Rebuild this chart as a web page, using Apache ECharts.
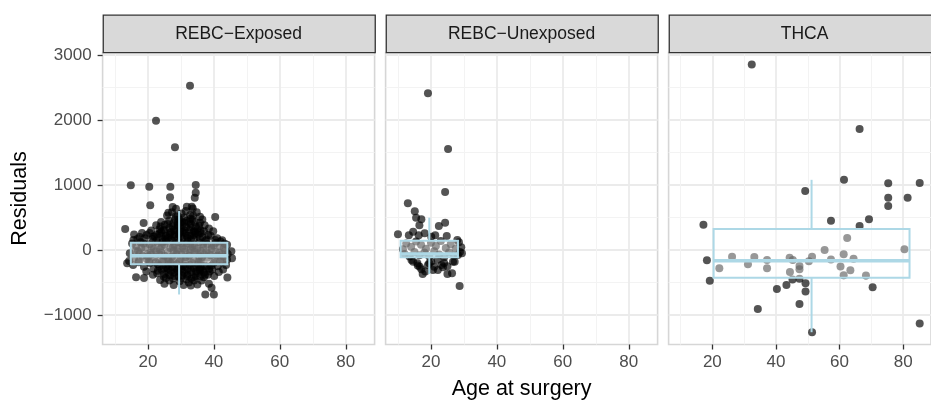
<!DOCTYPE html>
<html><head><meta charset="utf-8">
<script src="https://cdn.jsdelivr.net/npm/echarts@6/dist/echarts.min.js"></script>
<style>html,body{margin:0;padding:0;background:#fff}#chart{width:931px;height:401px}</style>
</head><body><div id="chart"></div>
<script>
// Facet titles, axis titles and tick values
const panelNames = ['REBC\u2212Exposed', 'REBC\u2212Unexposed', 'THCA'];
const xTitle = 'Age at surgery';
const yTitle = 'Residuals';
const xTicks = [20, 40, 60, 80];
const xMinor = [10, 30, 50, 70];
const yTicks = [-1000, 0, 1000, 2000, 3000];
const yMinor = [-500, 500, 1500, 2500];

// [age at surgery, residual]
const exposedPoints = [
  [32.76,2528],[22.45,1990],[28.2,1580],
  [14.8,995],[20.4,975],[26.8,975],[34.5,1000],[34.5,880],[26.7,810],[34.2,805],[20.7,687],[33.3,667],[31.8,667],
  [28.5,636],[33.6,640],[27.5,660],[26.2,574],[30.2,560],[31.5,600],[32.8,540],[29.0,520],[34.8,580],[35.8,513],[40.4,507],
  [36.5,470],[33.5,470],[28.2,470],[25.8,530],[29.5,470],[31,420],[32.5,430],
  [13.1,323],[18.7,415],[39.8,288],[40.4,154],[29.7,410],[24.7,308],[21.6,205],[19.6,231],[15.6,154],
  [22.5,380],[24.0,430],[26.0,400],[27.5,360],[29.0,420],[30.5,380],[31.8,450],[33.0,400],[34.5,360],[35.8,420],[37.2,380],[38.5,330],
  [36.0,300],[30.0,330],[28.5,300],[26.5,340],[23.5,320],[21.0,300],[32.5,310],[34.0,290],
  [25,300],[27,280],[29,350],[31,300],[33,350],[35,320],[24,220],[26,190],[28,240],[30,210],[32,190],[34,230],[36,260],
  [15.8,240],[17.5,200],[19.0,180],[20.5,260],[22.0,210],[23.5,250],[24.5,170],[25.5,220],[26.8,260],[28.0,200],[29.2,240],[30.5,180],
  [31.5,260],[32.8,220],[34.0,170],[35.2,240],[36.5,200],[37.8,160],[39.0,220],[41.0,180],[42.5,150],[27.0,160],[29.8,290],[33.8,280],[18.2,260],[16.8,170],
  [21.4,170],[22.7,240],[24.0,280],[25.3,180],[26.6,230],[27.9,310],[29.2,190],[30.5,270],[31.8,220],[33.1,170],[34.4,260],[35.7,190],[37.0,290],[38.3,230],
  [23.8,360],[25.1,390],[26.4,450],[27.7,410],[29.0,380],[30.3,440],[31.6,350],[32.9,480],[34.2,430],[35.5,370],[28.4,520],[30.9,500],[33.7,530],[27.3,580],
  [15.2,100],[16.5,60],[17.8,120],[19.2,40],[20.5,90],[21.8,20],[23.0,110],[24.2,60],[25.5,130],[26.8,30],[28.0,80],[29.3,120],[30.5,50],[31.8,100],
  [33.0,10],[34.2,70],[35.5,120],[36.8,40],[38.0,90],[39.3,20],[40.5,110],[41.8,60],[43.0,30],[44.0,80],[22.5,140],[27.5,140],[32.0,140],[37.5,140],[42.0,130],
  [18.0,30],[29.0,20],[33.5,50],[40.0,70],
  [16.0,-10],[17.3,-160],[18.7,100],[19.9,-60],[21.2,50],[22.4,-190],[23.7,10],[25.0,80],[26.3,-170],[27.6,50],[28.9,-20],[30.2,100],
  [31.5,-110],[32.8,80],[34.1,-30],[35.4,-180],[36.7,90],[38.0,-120],[39.3,60],[40.6,-30],[41.9,-170],[43.2,100],[44.0,-150],
  [20.6,-200],[26.0,-120],[31.0,20],[37.0,-70],[42.5,-60],[24.4,120],[34.9,20],
  [14.5,-50],[15.8,-120],[17.0,-20],[18.3,-90],[19.6,-140],[20.8,-40],[22.1,-110],[23.4,-60],[24.7,-150],[26.0,-30],[27.3,-100],[28.6,-60],[29.9,-130],
  [31.2,-20],[32.5,-90],[33.8,-140],[35.1,-50],[36.4,-110],[37.7,-30],[39.0,-80],[40.3,-140],[41.6,-40],[42.9,-100],[44.2,-60],[45.3,-20],[45.5,-128],
  [20.0,-100],[22.5,-20],[25.0,-90],[27.8,-10],[30.2,-70],[32.8,-40],[35.5,-100],[38.4,-50],[41.0,-90],[43.5,-10],[21.0,-70],[24.0,-40],[36.0,-10],[17.5,-50],
  [13.7,-205],[14.3,-170],[15.5,-230],[17.2,-190],[18.8,-260],[20.3,-180],[21.7,-290],[23.0,-220],[24.3,-170],[25.6,-260],[26.9,-200],[28.2,-280],[29.5,-180],
  [30.8,-240],[32.1,-290],[33.4,-200],[34.7,-260],[36.0,-180],[37.3,-240],[38.6,-290],[39.9,-200],[41.2,-250],[42.5,-180],[43.7,-230],[27.6,-160],[31.4,-160],[35.6,-300],
  [23.5,-250],[24.8,-290],[26.1,-230],[27.4,-270],[28.7,-220],[30.0,-300],[31.3,-260],[32.6,-230],[33.9,-280],[35.2,-220],[36.5,-310],[37.8,-260],[39.2,-240],
  [27,-320],[29,-300],[31,-350],[33,-310],[35,-360],[28,-400],[30,-430],[32,-380],[34,-420],[26,-290],[36,-270],[30,-250],[25,-370],[37,-420],
  [22.8,-360],[24.1,-300],[25.4,-430],[26.7,-390],[28.0,-350],[29.3,-410],[30.6,-320],[31.9,-400],[33.2,-440],[34.6,-330],[35.9,-410],[37.0,-350],[38.2,-380],[39.5,-300],
  [19.5,-330],[21.5,-380],[23.0,-320],[24.8,-410],[26.2,-350],[27.6,-440],[28.9,-330],[30.3,-390],[31.7,-450],[33.1,-340],[34.5,-400],[35.9,-320],
  [37.3,-380],[38.7,-330],[40.1,-400],[41.5,-340],[42.8,-300],[29.6,-480],[32.4,-500],[26.5,-470],[36.3,-470],[34.0,-470],
  [16.4,-420],[18.8,-430],[44.1,-425],[23.7,-461],[27.8,-538],[33,-548],[25.0,-520],[30.8,-540],[35.0,-530],[38.5,-520],[39.3,-580],
  [37.4,-687],[40.0,-685]
];
const unexposedPoints = [
  [19.1,2411],[25.2,1554],[24.3,892],[13.0,718],[15.1,595],[15.5,495],[17.1,472],[16.5,380],[24.3,420],[22.4,369],
  [10.0,241],[13.3,226],[16.3,226],[21.3,226],[24.8,215],[28.0,154],[29.2,41],[29.4,-51],[14.6,282],[18.1,256],[20.1,205],[11.5,11],
  [12.5,100],[14.0,50],[15.5,130],[17.0,80],[18.5,20],[20.0,110],[21.5,60],[23.0,140],[24.5,30],[26.0,90],[27.5,20],[28.5,120],
  [12.0,-60],[13.5,-100],[15.0,-30],[16.5,-80],[18.0,-40],[19.5,-100],[21.0,-20],[22.5,-70],[24.0,-110],[25.5,-40],[27.0,-90],[28.8,-30],
  [14.1,-154],[16.6,-257],[19.1,-231],[20.1,-180],[23.2,-231],[27.2,-180],[28.2,-77],[20.6,-308],[18.3,-330],[16.0,-240],[22.0,-150],
  [25.0,-250],[21.0,-260],[24.0,-200],[26.7,-180],[14.6,-180],[15.9,-205],[19.5,-205],[23.65,-266],
  [17.5,-369],[17.1,-297],[22.1,-308],[25.0,-369],[26.4,-359],[28.7,-554]
];
const thcaPoints = [
  [32.4,2857],[17.2,389],[18.3,-159],[19.2,-472],[22.2,-282],[26.2,-103],[31.2,-221],[33.2,-108],[37.2,-154],[37.2,-282],
  [34.3,-908],[40.3,-600],[43.3,-540],[44.3,-118],[45.3,-154],[47.4,-246],[47.4,-297],[44.4,-338],[45.2,-455],[47.4,-441],
  [49.3,-512],[49.3,-641],[47.4,-831],[49.2,908],[50.35,-174],[51.35,-103],[51.35,-1266],[55.3,0],[57.3,-146],[57.3,451],
  [60.3,-256],[61.3,-65],[61.3,-388],[62.4,185],[63.4,-313],[64.4,-135],[61.4,1080],[66.3,1862],[66.3,369],[69.25,472],
  [68.3,-392],[70.4,-574],[75.3,1026],[75.3,805],[75.3,677],[81.4,805],[80.4,13],[85.2,1033],[85.2,-1130]
];

// Box summaries: [left, right, centre, lower whisker, Q1, median, Q3, upper whisker]
const exposedBox = [14.8, 44.1, 29.45, -685, -220, -88, 112, 600];
const unexposedBox = [10.8, 28.2, 19.5, -369, -113, -62, 143, 497];
const thcaBox = [20.4, 82.0, 51.2, -1266, -426, -165, 323, 1080];

const pointSets = [exposedPoints, unexposedPoints, thcaPoints];
const boxSets = [exposedBox, unexposedBox, thcaBox];

// Layout
const X_MIN = 6.25, X_MAX = 88.75, Y_MIN = -1455, Y_MAX = 3040;
const PANEL_LEFT = [102.6, 385.6, 668.6];
const PANEL_W = 272, PANEL_TOP = 52.5, PANEL_H = 292;
const STRIP_TOP = 14.5, STRIP_H = 37.5;
const FONT = '"Liberation Sans", Helvetica, Arial, sans-serif';
const fmtMinus = v => String(v).replace('-', '\u2212');

const chart = echarts.init(document.getElementById('chart'), null, {renderer: 'canvas'});

const grids = [], xAxes = [], yAxes = [], series = [], graphics = [];

PANEL_LEFT.forEach((left, i) => {
  grids.push({
    left: left, top: PANEL_TOP, width: PANEL_W, height: PANEL_H,
    show: true, backgroundColor: '#ffffff', borderColor: '#d6d6d6', borderWidth: 1.6,
    containLabel: false
  });
  // major x axis (ticks, labels, major grid)
  xAxes.push({
    type: 'value', gridIndex: i, min: X_MIN, max: X_MAX, position: 'bottom',
    axisLine: {show: false, onZero: false},
    axisTick: {show: true, customValues: xTicks, length: 5, lineStyle: {color: '#333333', width: 1.3}},
    axisLabel: {show: true, customValues: xTicks, margin: 9, color: '#4d4d4d', fontSize: 17, fontFamily: FONT},
    splitLine: {show: true, lineStyle: {color: '#ebebeb', width: 1.8}}
  });
  // minor x grid
  xAxes.push({
    type: 'value', gridIndex: i, min: X_MIN, max: X_MAX, position: 'bottom',
    axisLine: {show: false, onZero: false},
    axisTick: {show: false, customValues: xMinor},
    axisLabel: {show: false, customValues: xMinor},
    splitLine: {show: true, lineStyle: {color: '#f3f3f3', width: 1}}
  });
  yAxes.push({
    type: 'value', gridIndex: i, min: Y_MIN, max: Y_MAX, position: 'left',
    axisLine: {show: false, onZero: false},
    axisTick: {show: i === 0, customValues: yTicks, length: 5, lineStyle: {color: '#333333', width: 1.3}},
    axisLabel: {show: i === 0, customValues: yTicks, margin: 11, color: '#4d4d4d', fontSize: 17, fontFamily: FONT,
      formatter: fmtMinus},
    splitLine: {show: true, lineStyle: {color: '#ebebeb', width: 1.8}}
  });
  yAxes.push({
    type: 'value', gridIndex: i, min: Y_MIN, max: Y_MAX, position: 'left',
    axisLine: {show: false, onZero: false},
    axisTick: {show: false, customValues: yMinor},
    axisLabel: {show: false, customValues: yMinor},
    splitLine: {show: true, lineStyle: {color: '#f3f3f3', width: 1}}
  });

  series.push({
    type: 'scatter', xAxisIndex: i * 2, yAxisIndex: i * 2, z: 2,
    data: pointSets[i], symbol: 'circle', symbolSize: 8,
    itemStyle: {color: 'rgba(0,0,0,0.84)'},
    emphasis: {disabled: true}, silent: true, animation: false
  });
  series.push({
    type: 'custom', xAxisIndex: i * 2, yAxisIndex: i * 2, z: 3,
    data: [boxSets[i]], silent: true, animation: false,
    renderItem: (params, api) => {
      const l = api.value(0), r = api.value(1), c = api.value(2);
      const lo = api.value(3), q1 = api.value(4), md = api.value(5), q3 = api.value(6), hi = api.value(7);
      const tl = api.coord([l, q3]), br = api.coord([r, q1]);
      const cx = api.coord([c, 0])[0];
      const yHi = api.coord([c, hi])[1], yLo = api.coord([c, lo])[1], yMd = api.coord([c, md])[1];
      const edge = {stroke: '#add8e6', lineWidth: 2, fill: null};
      return {type: 'group', children: [
        {type: 'line', shape: {x1: cx, y1: tl[1], x2: cx, y2: yHi}, style: edge},
        {type: 'line', shape: {x1: cx, y1: br[1], x2: cx, y2: yLo}, style: edge},
        {type: 'rect', shape: {x: tl[0], y: tl[1], width: br[0] - tl[0], height: br[1] - tl[1]},
          style: {fill: 'rgba(255,255,255,0.4)', stroke: '#add8e6', lineWidth: 2}},
        {type: 'line', shape: {x1: tl[0], y1: yMd, x2: br[0], y2: yMd}, style: {stroke: '#add8e6', lineWidth: 3.6}}
      ]};
    }
  });

  graphics.push({
    type: 'rect', left: left, top: STRIP_TOP, z: 10,
    shape: {width: PANEL_W, height: STRIP_H},
    style: {fill: '#d9d9d9', stroke: '#333333', lineWidth: 1.3}
  });
  graphics.push({
    type: 'text', x: left + PANEL_W / 2, y: STRIP_TOP + STRIP_H / 2 + 0.5, z: 11,
    style: {text: panelNames[i], fill: '#1a1a1a', fontSize: 17.5, fontFamily: FONT,
      textAlign: 'center', textVerticalAlign: 'middle'}
  });
});

graphics.push({
  type: 'text', x: PANEL_LEFT[0] + (PANEL_LEFT[2] + PANEL_W - PANEL_LEFT[0]) / 2, y: 389, z: 11,
  style: {text: xTitle, fill: '#000000', fontSize: 21.5, fontFamily: FONT, textAlign: 'center', textVerticalAlign: 'middle'}
});
graphics.push({
  type: 'text', x: 20.5, y: PANEL_TOP + PANEL_H / 2, rotation: Math.PI / 2, z: 11,
  style: {text: yTitle, fill: '#000000', fontSize: 21.5, fontFamily: FONT, textAlign: 'center', textVerticalAlign: 'middle'}
});

chart.setOption({
  animation: false,
  backgroundColor: '#ffffff',
  grid: grids,
  xAxis: xAxes,
  yAxis: yAxes,
  series: series,
  graphic: graphics
});
</script>
</body></html>
